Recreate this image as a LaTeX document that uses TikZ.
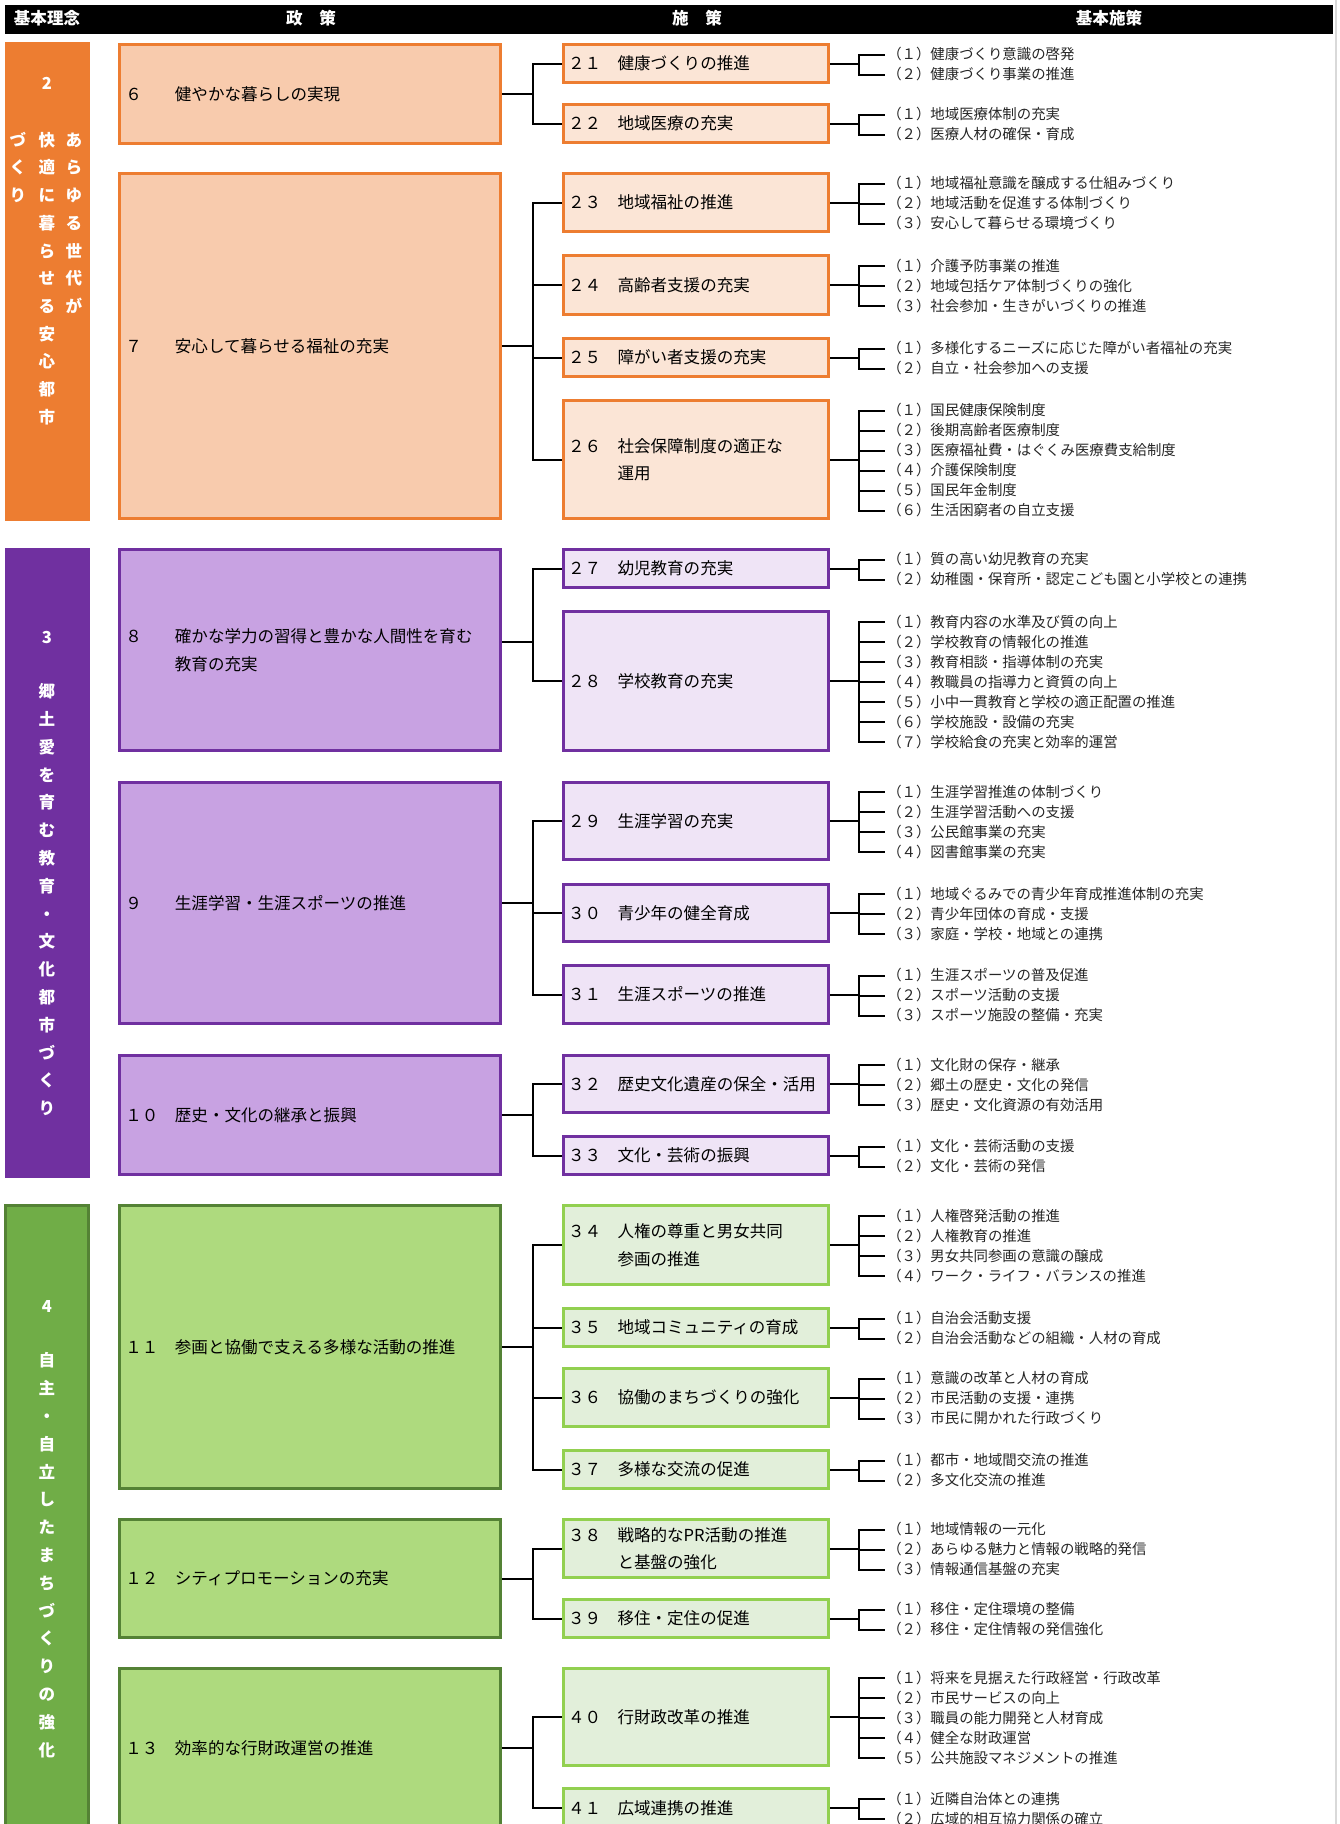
\documentclass[tikz,border=0pt]{standalone}
\usepackage{fontspec}
\setmainfont{Noto Sans CJK JP}
\usetikzlibrary{calc}
\definecolor{orBar}{HTML}{ED7D31}
\definecolor{orPol}{HTML}{F8CBAD}
\definecolor{orSub}{HTML}{FBE5D6}
\definecolor{puBar}{HTML}{7030A0}
\definecolor{puPol}{HTML}{C8A2E2}
\definecolor{puSub}{HTML}{EFE4F6}
\definecolor{grBar}{HTML}{70AD47}
\definecolor{grDark}{HTML}{548235}
\definecolor{grPol}{HTML}{AEDA7E}
\definecolor{grSub}{HTML}{E2EFDA}
\definecolor{grLine}{HTML}{92D050}
\definecolor{itemtext}{HTML}{262626}
\definecolor{edgegray}{HTML}{D9D9D9}
\newcommand\myboxfont{\fontsize{12.4pt}{20.6pt}\selectfont}
\newcommand\myitemfont{\fontsize{10.8pt}{13pt}\selectfont}
\newcommand\myvfont{\bfseries\fontsize{12.4pt}{14pt}\selectfont}
\newcommand\zdigit[1]{\ifcase#1 ０\or １\or ２\or ３\or ４\or ５\or ６\or ７\or ８\or ９\fi}
\tikzset{
  boxbase/.style={draw, line width=2.2pt, anchor=north west, inner ysep=0pt, align=left, font=\myboxfont},
  polbox/.style={boxbase, inner xsep=4pt, text width=277pt},
  subbox/.style={boxbase, inner xsep=3pt, text width=192pt},
  barbox/.style={draw, line width=2.2pt, anchor=north west, inner sep=0pt},
  orpol/.style={polbox, draw=orBar, fill=orPol},
  orsub/.style={subbox, draw=orBar, fill=orSub},
  pupol/.style={polbox, draw=puBar, fill=puPol},
  pusub/.style={subbox, draw=puBar, fill=puSub},
  grpol/.style={polbox, draw=grDark, fill=grPol},
  grsub/.style={subbox, draw=grLine, fill=grSub},
  itemnode/.style={inner sep=0pt, anchor=west, font=\myitemfont, text=itemtext, text height=9.5pt, text depth=1.3pt},
  connline/.style={draw=black, line width=1.5pt},
  vchar/.style={inner sep=0pt, text=white, font=\myvfont, text height=10.9pt, text depth=1.5pt},
  hdrtext/.style={inner sep=0pt, text=white, font=\myvfont, text height=10.9pt, text depth=1.5pt},
}
\newcommand\mkbox[7]{\node[#1, minimum width={(#5-#3)*0.75pt-2.2pt}, minimum height={(#6-#4)*0.75pt-2.2pt}] (#2) at (#3,#4) {#7};}
\newcommand\mkitems[3]{%
  \foreach \itm [count=\ii] in {#3} {%
    \node[itemnode] (#1-\ii) at ($(#1.east)+(57,{(\ii-(#2+1)/2)*20+1})$) {（\zdigit{\ii}）\itm};
    \draw[connline] (#1.east) -- ++(29,0) |- ([xshift=-1.5pt]#1-\ii.west);
  }}
\newcommand\mkconn[2]{\draw[connline] (#1) -- ++(31,0) |- (#2.west);}
\begin{document}
\begin{tikzpicture}[x=0.75pt, y=-0.75pt]
\useasboundingbox (0,0) rectangle (1339,1824);
\clip (0,0) rectangle (1339,1824);
\fill[white] (0,0) rectangle (1339,1824);
\draw[edgegray, line width=1.2pt] (1336,0) -- (1336,1824);
% header
\node[fill=black, anchor=north west, inner sep=0pt, minimum width={1328*0.75pt}, minimum height={29*0.75pt}] (hdr) at (5,5) {};
\node[hdrtext] (h1) at (47,18.5) {基本理念};
\node[hdrtext] (h2) at (311,18.5) {政　策};
\node[hdrtext] (h3) at (697,18.5) {施　策};
\node[hdrtext] (h4) at (1109,18.5) {基本施策};
% ---------------- orange
\mkbox{barbox, draw=orBar, fill=orBar}{barO}{5}{42}{90}{521}{}
\node[vchar] (o0) at (47,83.3) {2};
\foreach \chr [count=\ii] in {づ,く,り} \node[vchar] (oL-\ii) at (18,{140+27.7*(\ii-1)}) {\chr};
\foreach \chr [count=\ii] in {快,適,に,暮,ら,せ,る,安,心,都,市} \node[vchar] (oM-\ii) at (47,{140+27.7*(\ii-1)}) {\chr};
\foreach \chr [count=\ii] in {あ,ら,ゆ,る,世,代,が} \node[vchar] (oR-\ii) at (74,{140+27.7*(\ii-1)}) {\chr};
\mkbox{orpol}{p6}{118}{43}{502}{145}{６　　健やかな暮らしの実現}
\mkbox{orpol}{p7}{118}{172}{502}{520}{７　　安心して暮らせる福祉の充実}
\mkbox{orsub}{b21}{562}{43}{830}{84}{２１　健康づくりの推進}
\mkbox{orsub}{b22}{562}{103}{830}{144}{２２　地域医療の充実}
\mkbox{orsub}{b23}{562}{172}{830}{233}{２３　地域福祉の推進}
\mkbox{orsub}{b24}{562}{254}{830}{316}{２４　高齢者支援の充実}
\mkbox{orsub}{b25}{562}{337}{830}{378}{２５　障がい者支援の充実}
\mkbox{orsub}{b26}{562}{399}{830}{520}{２６　社会保障制度の適正な\\　　　運用}
\mkconn{p6.east}{b21}\mkconn{p6.east}{b22}
\mkconn{p7.east}{b23}\mkconn{p7.east}{b24}\mkconn{p7.east}{b25}\mkconn{p7.east}{b26}
\mkitems{b21}{2}{健康づくり意識の啓発,健康づくり事業の推進}
\mkitems{b22}{2}{地域医療体制の充実,医療人材の確保・育成}
\mkitems{b23}{3}{地域福祉意識を醸成する仕組みづくり,地域活動を促進する体制づくり,安心して暮らせる環境づくり}
\mkitems{b24}{3}{介護予防事業の推進,地域包括ケア体制づくりの強化,社会参加・生きがいづくりの推進}
\mkitems{b25}{2}{多様化するニーズに応じた障がい者福祉の充実,自立・社会参加への支援}
\mkitems{b26}{6}{国民健康保険制度,後期高齢者医療制度,医療福祉費・はぐくみ医療費支給制度,介護保険制度,国民年金制度,生活困窮者の自立支援}
% ---------------- purple
\mkbox{barbox, draw=puBar, fill=puBar}{barP}{5}{548}{90}{1178}{}
\node[vchar] (p0) at (47,637) {3};
\foreach \chr [count=\ii] in {郷,土,愛,を,育,む,教,育,・,文,化,都,市,づ,く,り} \node[vchar] (pM-\ii) at (47,{691.5+27.8*(\ii-1)}) {\chr};
\mkbox{pupol}{p8}{118}{548}{502}{752}{８　　確かな学力の習得と豊かな人間性を育む\\　　　教育の充実}
\mkbox{pupol}{p9}{118}{781}{502}{1025}{９　　生涯学習・生涯スポーツの推進}
\mkbox{pupol}{p10}{118}{1054}{502}{1176}{１０　歴史・文化の継承と振興}
\mkbox{pusub}{b27}{562}{548}{830}{589}{２７　幼児教育の充実}
\mkbox{pusub}{b28}{562}{610}{830}{752}{２８　学校教育の充実}
\mkbox{pusub}{b29}{562}{781}{830}{861}{２９　生涯学習の充実}
\mkbox{pusub}{b30}{562}{883}{830}{943}{３０　青少年の健全育成}
\mkbox{pusub}{b31}{562}{964}{830}{1025}{３１　生涯スポーツの推進}
\mkbox{pusub}{b32}{562}{1054}{830}{1114}{３２　歴史文化遺産の保全・活用}
\mkbox{pusub}{b33}{562}{1135}{830}{1176}{３３　文化・芸術の振興}
\mkconn{[yshift=6pt]p8.east}{b27}\mkconn{[yshift=6pt]p8.east}{b28}
\mkconn{p9.east}{b29}\mkconn{p9.east}{b30}\mkconn{p9.east}{b31}
\mkconn{p10.east}{b32}\mkconn{p10.east}{b33}
\mkitems{b27}{2}{質の高い幼児教育の充実,幼稚園・保育所・認定こども園と小学校との連携}
\mkitems{b28}{7}{教育内容の水準及び質の向上,学校教育の情報化の推進,教育相談・指導体制の充実,教職員の指導力と資質の向上,小中一貫教育と学校の適正配置の推進,学校施設・設備の充実,学校給食の充実と効率的運営}
\mkitems{b29}{4}{生涯学習推進の体制づくり,生涯学習活動への支援,公民館事業の充実,図書館事業の充実}
\mkitems{b30}{3}{地域ぐるみでの青少年育成推進体制の充実,青少年団体の育成・支援,家庭・学校・地域との連携}
\mkitems{b31}{3}{生涯スポーツの普及促進,スポーツ活動の支援,スポーツ施設の整備・充実}
\mkitems{b32}{3}{文化財の保存・継承,郷土の歴史・文化の発信,歴史・文化資源の有効活用}
\mkitems{b33}{2}{文化・芸術活動の支援,文化・芸術の発信}
% ---------------- green
\mkbox{barbox, draw=grDark, fill=grBar}{barG}{4}{1204}{90}{1840}{}
\node[vchar] (g0) at (47,1306.7) {4};
\foreach \chr [count=\ii] in {自,主,・,自,立,し,た,ま,ち,づ,く,り,の,強,化} \node[vchar] (gM-\ii) at (47,{1360.6+27.8*(\ii-1)}) {\chr};
\mkbox{grpol}{p11}{118}{1204}{502}{1490}{１１　参画と協働で支える多様な活動の推進}
\mkbox{grpol}{p12}{118}{1518}{502}{1639}{１２　シティプロモーションの充実}
\mkbox{grpol}{p13}{118}{1667}{502}{1829}{１３　効率的な行財政運営の推進}
\mkbox{grsub}{b34}{562}{1204}{830}{1286}{３４　人権の尊重と男女共同\\　　　参画の推進}
\mkbox{grsub}{b35}{562}{1307}{830}{1348}{３５　地域コミュニティの育成}
\mkbox{grsub}{b36}{562}{1367}{830}{1428}{３６　協働のまちづくりの強化}
\mkbox{grsub}{b37}{562}{1449}{830}{1490}{３７　多様な交流の促進}
\mkbox{grsub}{b38}{562}{1518}{830}{1579}{３８　戦略的なPR活動の推進\\　　　と基盤の強化}
\mkbox{grsub}{b39}{562}{1598}{830}{1639}{３９　移住・定住の促進}
\mkbox{grsub}{b40}{562}{1667}{830}{1767}{４０　行財政改革の推進}
\mkbox{grsub}{b41}{562}{1787}{830}{1829}{４１　広域連携の推進}
\mkconn{p11.east}{b34}\mkconn{p11.east}{b35}\mkconn{p11.east}{b36}\mkconn{p11.east}{b37}
\mkconn{p12.east}{b38}\mkconn{p12.east}{b39}
\mkconn{p13.east}{b40}\mkconn{p13.east}{b41}
\mkitems{b34}{4}{人権啓発活動の推進,人権教育の推進,男女共同参画の意識の醸成,ワーク・ライフ・バランスの推進}
\mkitems{b35}{2}{自治会活動支援,自治会活動などの組織・人材の育成}
\mkitems{b36}{3}{意識の改革と人材の育成,市民活動の支援・連携,市民に開かれた行政づくり}
\mkitems{b37}{2}{都市・地域間交流の推進,多文化交流の推進}
\mkitems{b38}{3}{地域情報の一元化,あらゆる魅力と情報の戦略的発信,情報通信基盤の充実}
\mkitems{b39}{2}{移住・定住環境の整備,移住・定住情報の発信強化}
\mkitems{b40}{5}{将来を見据えた行政経営・行政改革,市民サービスの向上,職員の能力開発と人材育成,健全な財政運営,公共施設マネジメントの推進}
\mkitems{b41}{2}{近隣自治体との連携,広域的相互協力関係の確立}
\end{tikzpicture}
\end{document}
